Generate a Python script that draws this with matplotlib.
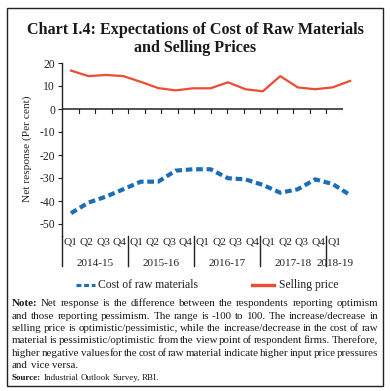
import matplotlib
matplotlib.use("Agg")
import matplotlib.pyplot as plt
import matplotlib.transforms as mtransforms
from matplotlib.lines import Line2D
from matplotlib.patches import Rectangle

# ---------------- data ----------------
quarters = ["Q1", "Q2", "Q3", "Q4", "Q1", "Q2", "Q3", "Q4", "Q1", "Q2", "Q3", "Q4",
            "Q1", "Q2", "Q3", "Q4", "Q1"]
years = ["2014-15", "2015-16", "2016-17", "2017-18", "2018-19"]
year_sizes = [4, 4, 4, 4, 1]
cost_raw = [-45.3, -40.7, -38.1, -34.9, -31.6, -31.6, -26.8, -26.2, -26.2, -30.1,
            -30.6, -33.0, -36.4, -34.9, -30.6, -32.6, -37.4]
selling_price = [16.7, 14.3, 14.8, 14.3, 11.8, 9.1, 8.1, 9.0, 9.0, 11.6,
                 8.6, 7.7, 14.3, 9.4, 8.6, 9.4, 12.2]
yticks = [-50, -40, -30, -20, -10, 0, 10, 20]

title = "Chart I.4: Expectations of Cost of Raw Materials\nand Selling Prices"
note_lines = [
    "Net response is the difference between the respondents reporting optimism",
    "and those reporting pessimism. The range is -100 to 100. The increase/decrease in",
    "selling price is optimistic/pessimistic, while the increase/decrease in the cost of raw",
    "material is pessimistic/optimistic from the view point of respondent firms. Therefore,",
    "higher negative values for the cost of raw material indicate higher input price pressures",
    "and vice versa.",
]
source_text = "Industrial Outlook Survey, RBI."

RED = "#EE4B33"
BLUE = "#1C6DB8"
SERIF = ["Liberation Serif", "DejaVu Serif"]
NOTE_FONT = SERIF

W, H = 390, 391
fig = plt.figure(figsize=(W / 100, H / 100), dpi=100)

def fx(px):
    return px / W

def fy(py):
    return 1 - py / H

# outer frame
fig.patches.append(Rectangle((fx(7), fy(386)), fx(383) - fx(7), fy(8) - fy(386),
                             transform=fig.transFigure, fill=False,
                             edgecolor="#222222", linewidth=1.0))

# title
t1, t2 = title.split("\n")
fig.text(0.5, fy(30), t1, ha="center", va="center", fontsize=11.6,
         fontweight="bold", family=SERIF, color="#1a1a1a")
fig.text(0.5, fy(48), t2, ha="center", va="center", fontsize=11.6,
         fontweight="bold", family=SERIF, color="#1a1a1a")

# axes geometry
ax_l, ax_r = 62, 343
ymin, ymax = -55, 20
ax_top = 63
ax_bot = ax_top + (ymax - ymin) * 2.3
ax = fig.add_axes([fx(ax_l), fy(ax_bot), fx(ax_r) - fx(ax_l), fy(ax_top) - fy(ax_bot)])
ax.set_ylim(ymin, ymax)
n = len(quarters)
ax.set_xlim(0, n)
for s in ["top", "right", "bottom"]:
    ax.spines[s].set_visible(False)
ax.spines["left"].set_color("#222222")
ax.spines["left"].set_linewidth(1.0)
ax.set_yticks(yticks)
ax.set_yticklabels([str(v) for v in yticks], family=SERIF, fontsize=8.4)
ax.tick_params(axis="y", direction="out", length=3, width=0.8, pad=2, colors="#222222")
ax.set_xticks([])
ax.patch.set_alpha(0)

# zero line with category boundary ticks
ax.axhline(0, color="#222222", linewidth=1.1, zorder=1)
tick_len = 4 / 2.3
for k in range(1, n + 1):
    ax.plot([k, k], [0, -tick_len], color="#222222", linewidth=0.8, zorder=1)

# category labels and year separators
trans_x = mtransforms.blended_transform_factory(ax.transData, fig.transFigure)
for k, q in enumerate(quarters):
    ax.text(k + 0.5, fy(242), q, transform=trans_x, ha="center", va="center",
            family=SERIF, fontsize=8.2, color="#222222")
start = 0
for yr, sz in zip(years, year_sizes):
    ax.add_line(Line2D([start, start], [fy(ax_bot), fy(266)], transform=trans_x,
                       color="#222222", linewidth=1.0, clip_on=False))
    ax.text(start + sz / 2, fy(264), yr, transform=trans_x, ha="center", va="center",
            family=SERIF, fontsize=8, color="#222222")
    start += sz

ax.set_ylabel("Net response (Per cent)", family=SERIF, fontsize=8.2, color="#222222",
              labelpad=5)

# series on a twin x-axis (data points spaced slightly wider than category bands)
ax2 = ax.twiny()
step = 17.44
ax2.set_xlim(-(71 - ax_l) / step, -(71 - ax_l) / step + (ax_r - ax_l) / step)
ax2.set_axis_off()
xs = list(range(len(cost_raw)))
ax2.plot(xs, cost_raw, color=BLUE, linewidth=3.0, linestyle=(0, (1.6, 0.9)),
         clip_on=False, solid_capstyle="butt", dash_capstyle="butt",
         label="Cost of raw materials")
ax2.plot(xs, selling_price, color=RED, linewidth=1.6, clip_on=False,
         label="Selling price")

# legend (manual)
ly = fy(285)
fig.add_artist(Line2D([fx(76), fx(95)], [ly, ly], color=BLUE, linewidth=2.2,
                      linestyle=(0, (1.6, 0.9)), transform=fig.transFigure))
fig.text(fx(98), ly, "Cost of raw materials", ha="left", va="center",
         family=SERIF, fontsize=8.4, color="#222222")
fig.add_artist(Line2D([fx(252), fx(274)], [ly, ly], color=RED, linewidth=2.4,
                      transform=fig.transFigure))
fig.text(fx(279), ly, "Selling price", ha="left", va="center",
         family=SERIF, fontsize=8.4, color="#222222")

# justified note
fig.canvas.draw()
renderer = fig.canvas.get_renderer()

def text_width(s, fs, wt="normal"):
    t = fig.text(0, 0, s, family=NOTE_FONT, fontsize=fs, fontweight=wt)
    w = t.get_window_extent(renderer).width
    t.remove()
    return w

# font size so the tightest line fills the width with narrow word gaps
x_left, x_right = 12, 378
probe_words = note_lines[4].split(" ")
ws1 = sum(text_width(w, 10.0) for w in probe_words) / 10.0
min_gap_em = 0.14
fs_note = (x_right - x_left) / (ws1 + (len(probe_words) - 1) * min_gap_em * 100 / 72)

def place_line(words, x0, x1, y, fs, justify, bold_first=None):
    items = []
    if bold_first:
        items.append((bold_first, "bold"))
    items += [(w, "normal") for w in words]
    texts = []
    widths = []
    for w, wt in items:
        t = fig.text(0, y, w, ha="left", va="center", family=NOTE_FONT, fontsize=fs,
                     fontweight=wt, color="#1a1a1a")
        texts.append(t)
        widths.append(t.get_window_extent(renderer).width)
    total = sum(widths)
    if justify and len(items) > 1:
        gap = (x1 - x0 - total) / (len(items) - 1)
    else:
        gap = text_width("a a", fs) - text_width("aa", fs)
    x = x0
    for t, w in zip(texts, widths):
        t.set_x(fx(x))
        x += w + gap

note_y0 = 304
note_dy = 12.3
for i, line in enumerate(note_lines):
    just = i < len(note_lines) - 1
    place_line(line.split(" "), x_left, x_right, fy(note_y0 + i * note_dy), fs_note, just,
               bold_first="Note:" if i == 0 else None)
place_line(source_text.split(" "), x_left, x_right,
           fy(note_y0 + len(note_lines) * note_dy + 0.5),
           fs_note * 0.82, False, bold_first="Source:")

fig.savefig("out.png", dpi=100)
